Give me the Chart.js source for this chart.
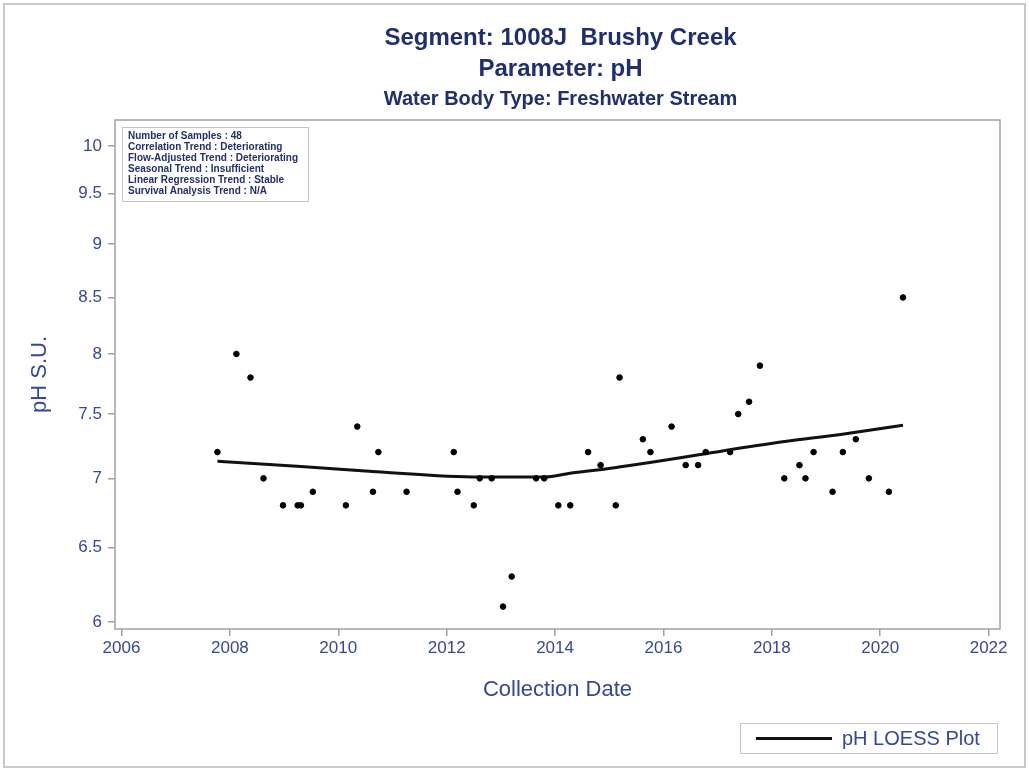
<!DOCTYPE html>
<html>
<head>
<meta charset="utf-8">
<script src="https://cdn.jsdelivr.net/npm/chart.js@4.4.0/dist/chart.umd.min.js"></script>
<style>
  body { margin: 0; background: #fff; }
  #wrap { width: 1029px; height: 771px; }
</style>
</head>
<body>
<div id="wrap"><canvas id="phChart" width="1029" height="771"></canvas></div>
<script>
// collection dates as decimal years, pH
const sampleDates = [
  2007.77, 2008.12, 2008.38, 2008.62, 2008.98, 2009.25, 2009.31, 2009.53,
  2010.14, 2010.35, 2010.64, 2010.74, 2011.26, 2012.13, 2012.20, 2012.50,
  2012.61, 2012.83, 2013.04, 2013.20, 2013.65, 2013.80, 2014.06, 2014.28,
  2014.61, 2014.84, 2015.12, 2015.19, 2015.62, 2015.76, 2016.15, 2016.41,
  2016.64, 2016.78, 2017.23, 2017.38, 2017.58, 2017.78, 2018.23, 2018.51,
  2018.62, 2018.77, 2019.12, 2019.31, 2019.55, 2019.79, 2020.16, 2020.42
];
const samplePH = [
  7.2, 8.0, 7.8, 7.0, 6.8, 6.8, 6.8, 6.9,
  6.8, 7.4, 6.9, 7.2, 6.9, 7.2, 6.9, 6.8,
  7.0, 7.0, 6.1, 6.3, 7.0, 7.0, 6.8, 6.8,
  7.2, 7.1, 6.8, 7.8, 7.3, 7.2, 7.4, 7.1,
  7.1, 7.2, 7.2, 7.5, 7.6, 7.9, 7.0, 7.1,
  7.0, 7.2, 6.9, 7.2, 7.3, 7.0, 6.9, 8.5
];

// LOESS fit
const loessDates = [2007.77, 2009.31, 2010.70, 2012.60, 2013.80, 2014.30, 2015.10, 2015.75, 2016.80, 2018.20, 2019.30, 2020.42];
const loessPH    = [7.13,    7.09,    7.05,    7.01,    7.01,    7.04,    7.08,    7.12,    7.19,    7.28,    7.34,    7.41];

const xTicks = [2006, 2008, 2010, 2012, 2014, 2016, 2018, 2020, 2022];
const yTicks = [6, 6.5, 7, 7.5, 8, 8.5, 9, 9.5, 10];

const titleLines = ['Segment: 1008J  Brushy Creek', 'Parameter: pH', 'Water Body Type: Freshwater Stream'];
const statsLines = [
  'Number of Samples : 48',
  'Correlation Trend : Deteriorating',
  'Flow-Adjusted Trend : Deteriorating',
  'Seasonal Trend : Insufficient',
  'Linear Regression Trend : Stable',
  'Survival Analysis Trend : N/A'
];
const legendText = 'pH LOESS Plot';

const FONT = '"Liberation Sans", Arial, sans-serif';
const navy = '#1f2f6f';
const blue = '#34489a';

// titles, stats box, frame, legend, outer border
const decor = {
  id: 'decor',
  afterDraw(chart) {
    const ctx = chart.ctx;
    const a = chart.chartArea;
    const cx = (a.left + a.right) / 2;
    ctx.save();

    // plot frame
    ctx.strokeStyle = '#a0a0a0';
    ctx.lineWidth = 1.5;
    ctx.strokeRect(a.left, a.top, a.right - a.left, a.bottom - a.top);

    // titles
    ctx.fillStyle = navy;
    ctx.textAlign = 'center';
    ctx.textBaseline = 'middle';
    ctx.font = 'bold 24px ' + FONT;
    ctx.fillText(titleLines[0], cx + 3, 38);
    ctx.fillText(titleLines[1], cx + 3, 69);
    ctx.font = 'bold 20px ' + FONT;
    ctx.fillText(titleLines[2], cx + 3, 99);

    // stats inset
    ctx.strokeStyle = '#c4c4c4';
    ctx.lineWidth = 1;
    ctx.strokeRect(122.5, 127.5, 186, 74);
    ctx.textAlign = 'left';
    ctx.font = 'bold 10px ' + FONT;
    statsLines.forEach((t, i) => ctx.fillText(t, 128, 136 + i * 11));

    // legend
    ctx.strokeStyle = '#c4c4c4';
    ctx.strokeRect(740.5, 723.5, 257, 30);
    ctx.strokeStyle = '#111';
    ctx.lineWidth = 3;
    ctx.beginPath();
    ctx.moveTo(756, 738.5);
    ctx.lineTo(832, 738.5);
    ctx.stroke();
    ctx.fillStyle = blue;
    ctx.font = '20px ' + FONT;
    ctx.fillText(legendText, 842, 739);

    // outer border
    ctx.strokeStyle = '#c8c8c8';
    ctx.lineWidth = 2;
    ctx.strokeRect(4, 4, 1021, 763);
    ctx.restore();
  }
};

const points = sampleDates.map((d, i) => ({ x: d, y: samplePH[i] }));
const loess = loessDates.map((d, i) => ({ x: d, y: loessPH[i] }));

new Chart(document.getElementById('phChart'), {
  type: 'scatter',
  data: {
    datasets: [
      {
        label: 'pH',
        data: points,
        backgroundColor: '#000',
        borderColor: '#000',
        pointRadius: 2.8,
        pointHoverRadius: 2.8
      },
      {
        type: 'line',
        label: legendText,
        data: loess,
        borderColor: '#111',
        borderWidth: 3,
        pointRadius: 0,
        fill: false,
        cubicInterpolationMode: 'monotone'
      }
    ]
  },
  options: {
    responsive: false,
    animation: false,
    events: [],
    layout: { padding: { top: 120, left: 0, right: 29, bottom: 61 } },
    plugins: {
      legend: { display: false },
      title: { display: false },
      tooltip: { enabled: false }
    },
    scales: {
      x: {
        type: 'linear',
        min: 2005.88,
        max: 2022.21,
        afterBuildTicks: s => { s.ticks = xTicks.map(v => ({ value: v })); },
        afterFit: s => { s.height = 81; },
        border: { display: false },
        grid: { drawOnChartArea: false, drawTicks: true, tickLength: 7, color: '#a0a0a0', lineWidth: 1.5 },
        ticks: {
          color: blue,
          font: { family: FONT, size: 17 },
          padding: 2,
          maxRotation: 0,
          autoSkip: false,
          callback: v => String(v)
        },
        title: {
          display: true,
          text: 'Collection Date',
          color: blue,
          font: { family: FONT, size: 22 },
          padding: { top: 0, bottom: 7 }
        }
      },
      y: {
        type: 'logarithmic',
        min: 5.955,
        max: 10.283,
        afterBuildTicks: s => { s.ticks = yTicks.map(v => ({ value: v })); },
        afterFit: s => { s.width = 115; },
        border: { display: false },
        grid: { drawOnChartArea: false, drawTicks: true, tickLength: 7, color: '#a0a0a0', lineWidth: 1.5 },
        ticks: {
          color: blue,
          font: { family: FONT, size: 17 },
          padding: 6,
          autoSkip: false,
          callback: v => String(v)
        },
        title: {
          display: true,
          text: 'pH S.U.',
          color: blue,
          font: { family: FONT, size: 22 },
          padding: { top: 27, bottom: 0 }
        }
      }
    }
  },
  plugins: [decor]
});
</script>
</body>
</html>
